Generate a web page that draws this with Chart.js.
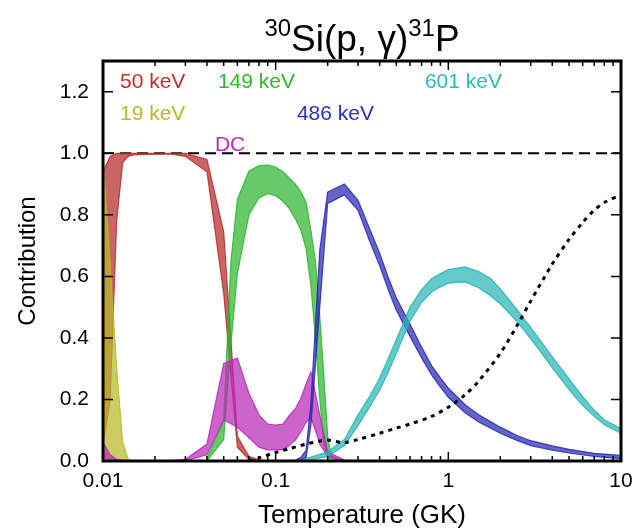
<!DOCTYPE html>
<html>
<head>
<meta charset="utf-8">
<script src="https://cdn.jsdelivr.net/npm/chart.js@4.4.1/dist/chart.umd.min.js"></script>
<style>
  html, body { margin: 0; padding: 0; background: #fff; }
</style>
</head>
<body>
<canvas id="myChart" width="636" height="529"></canvas>
<script>
'use strict';

// 19 keV
let t19 = [0.01, 0.011, 0.012, 0.013, 0.014, 0.015];
let lo19 = [0.02, 0, 0, 0, 0, 0];
let hi19 = [0.99, 0.64, 0.3, 0.06, 0.005, 0];

// 50 keV
let t50 = [0.01, 0.011, 0.012, 0.013, 0.014, 0.015, 0.02, 0.025, 0.03, 0.04, 0.05, 0.06, 0.07, 0.08, 0.09];
let lo50 = [0.05, 0.2, 0.78, 0.97, 0.99, 0.995, 0.997, 0.997, 0.99, 0.94, 0.545, 0.045, 0.005, 0.001, 0];
let hi50 = [0.94, 0.99, 1.0, 1.0, 1.0, 1.0, 1.0, 1.0, 1.0, 0.98, 0.745, 0.08, 0.015, 0.003, 0];

// DC
let tDC = [0.01, 0.011, 0.012, 0.013, 0.02, 0.025, 0.03, 0.04, 0.05, 0.06, 0.07, 0.08, 0.09, 0.1, 0.11, 0.12, 0.13, 0.14, 0.15, 0.16, 0.17, 0.18, 0.2, 0.25, 0.3];
let loDC = [0, 0, 0, 0, 0, 0, 0.001, 0.02, 0.133, 0.11, 0.075, 0.045, 0.036, 0.036, 0.036, 0.05, 0.068, 0.095, 0.125, 0.14, 0.1, 0.055, 0.015, 0, 0];
let hiDC = [0.06, 0.02, 0.005, 0.001, 0.001, 0.002, 0.005, 0.055, 0.317, 0.335, 0.22, 0.15, 0.12, 0.117, 0.12, 0.148, 0.17, 0.205, 0.25, 0.29, 0.22, 0.15, 0.03, 0.003, 0];

// 149 keV
let t149 = [0.04, 0.05, 0.055, 0.06, 0.07, 0.08, 0.09, 0.1, 0.11, 0.12, 0.13, 0.14, 0.15, 0.16, 0.17, 0.18, 0.19, 0.2, 0.21, 0.25];
let lo149 = [0, 0.07, 0.376, 0.61, 0.8, 0.855, 0.869, 0.862, 0.845, 0.82, 0.787, 0.75, 0.69, 0.57, 0.4, 0.2, 0.06, 0.01, 0, 0];
let hi149 = [0.01, 0.13, 0.645, 0.85, 0.942, 0.96, 0.962, 0.955, 0.94, 0.92, 0.9, 0.875, 0.84, 0.75, 0.65, 0.47, 0.28, 0.08, 0.015, 0];

// 486 keV
let t486 = [0.12, 0.13, 0.14, 0.15, 0.16, 0.18, 0.2, 0.25, 0.3, 0.35, 0.4, 0.45, 0.5, 0.6, 0.7, 0.8, 0.9, 1, 1.25, 1.5, 2, 2.5, 3, 4, 5, 7, 10];
let lo486 = [0, 0, 0.003, 0.01, 0.116, 0.5, 0.837, 0.865, 0.815, 0.715, 0.635, 0.555, 0.49, 0.405, 0.335, 0.28, 0.24, 0.207, 0.157, 0.127, 0.09, 0.067, 0.05, 0.035, 0.026, 0.015, 0.008];
let hi486 = [0, 0.003, 0.012, 0.035, 0.186, 0.685, 0.874, 0.9, 0.847, 0.755, 0.675, 0.595, 0.53, 0.445, 0.37, 0.31, 0.27, 0.237, 0.183, 0.15, 0.11, 0.083, 0.066, 0.049, 0.038, 0.025, 0.018];

// 601 keV
let t601 = [0.14, 0.15, 0.2, 0.25, 0.3, 0.35, 0.4, 0.45, 0.5, 0.6, 0.7, 0.8, 0.9, 1, 1.25, 1.5, 1.75, 2, 2.5, 3, 3.5, 4, 5, 6, 7, 8, 10];
let lo601 = [0, 0, 0.015, 0.05, 0.115, 0.175, 0.23, 0.29, 0.35, 0.455, 0.515, 0.549, 0.566, 0.578, 0.582, 0.563, 0.537, 0.511, 0.453, 0.397, 0.347, 0.303, 0.232, 0.18, 0.145, 0.118, 0.09];
let hi601 = [0, 0.008, 0.03, 0.07, 0.15, 0.21, 0.27, 0.335, 0.395, 0.5, 0.557, 0.592, 0.609, 0.622, 0.631, 0.616, 0.594, 0.559, 0.492, 0.434, 0.383, 0.339, 0.267, 0.209, 0.165, 0.134, 0.105];

// dotted black curve
let tDot = [0.07, 0.08, 0.1, 0.12, 0.15, 0.18, 0.2, 0.25, 0.3, 0.4, 0.5, 0.6, 0.8, 1, 1.25, 1.5, 2, 2.5, 3, 4, 5, 6, 7, 8, 10];
let vDot = [0, 0.01, 0.028, 0.04, 0.055, 0.065, 0.068, 0.06, 0.07, 0.09, 0.107, 0.12, 0.145, 0.175, 0.215, 0.26, 0.35, 0.44, 0.52, 0.64, 0.72, 0.775, 0.815, 0.84, 0.865];

let xTicks = [0.01, 0.1, 1, 10];
let xTickLabels = ['0.01', '0.1', '1', '10'];
let yTicks = [0, 0.2, 0.4, 0.6, 0.8, 1.0, 1.2];

// text labels: [text, T, value, colour]
let labels = [
  ['50 keV', 0.01254, 1.23, 'rgb(200,45,45)'],
  ['149 keV', 0.0463, 1.23, 'rgb(45,185,45)'],
  ['601 keV', 0.732, 1.23, 'rgb(45,185,185)'],
  ['19 keV', 0.01254, 1.127, 'rgb(185,185,40)'],
  ['486 keV', 0.1328, 1.127, 'rgb(45,45,195)'],
  ['DC', 0.0445, 1.026, 'rgb(190,45,190)']
];

function pts(t, v) {
  let out = [];
  for (let i = 0; i < t.length; i++) {
    out.push({x: t[i], y: v[i]});
  }
  return out;
}

function band(t, lo, hi, rgb) {
  let line = `rgba(${rgb},0.85)`;
  let fillCol = `rgba(${rgb},0.72)`;
  return [
    {data: pts(t, lo), borderColor: line, borderWidth: 1.2, pointRadius: 0, fill: false, tension: 0},
    {data: pts(t, hi), borderColor: line, borderWidth: 1.2, pointRadius: 0, fill: '-1', backgroundColor: fillCol, tension: 0}
  ];
}

let datasets = [
  {data: pts(tDot, vDot), borderColor: '#000', borderWidth: 3, borderDash: [4, 5], pointRadius: 0, fill: false, tension: 0.3}
];
datasets = datasets.concat(
  band(t601, lo601, hi601, '40,180,180'),
  band(t486, lo486, hi486, '40,40,180'),
  band(tDC, loDC, hiDC, '185,40,185'),
  band(t149, lo149, hi149, '45,180,45'),
  band(t19, lo19, hi19, '185,185,40'),
  band(t50, lo50, hi50, '182,42,42')
);
datasets.push({data: [{x: 0.01, y: 1}, {x: 10, y: 1}], borderColor: '#000', borderWidth: 2, borderDash: [11, 6], pointRadius: 0, fill: false});

// frame, inward ticks, title and text labels
let decor = {
  id: 'decor',
  afterDraw(chart) {
    let ctx = chart.ctx;
    let a = chart.chartArea;
    let x = chart.scales.x;
    let y = chart.scales.y;
    ctx.save();
    ctx.strokeStyle = '#000';
    ctx.lineWidth = 1.5;
    ctx.beginPath();
    for (let d of [0.01, 0.1, 1]) {
      for (let k = 1; k <= 10; k++) {
        let px = x.getPixelForValue(d * k);
        let len = (k === 1 || k === 10) ? 9 : 5;
        ctx.moveTo(px, a.bottom); ctx.lineTo(px, a.bottom - len);
        ctx.moveTo(px, a.top); ctx.lineTo(px, a.top + len);
      }
    }
    for (let v of yTicks) {
      let py = y.getPixelForValue(v);
      ctx.moveTo(a.left, py); ctx.lineTo(a.left + 10, py);
      ctx.moveTo(a.right, py); ctx.lineTo(a.right - 10, py);
    }
    ctx.stroke();
    ctx.lineWidth = 3;
    ctx.strokeRect(a.left, a.top, a.right - a.left, a.bottom - a.top);

    ctx.textBaseline = 'middle';
    ctx.textAlign = 'left';
    ctx.font = '21px "Liberation Sans", Arial, sans-serif';
    for (let l of labels) {
      ctx.fillStyle = l[3];
      ctx.fillText(l[0], x.getPixelForValue(l[1]), y.getPixelForValue(l[2]));
    }

    // title with superscripts
    let big = '37px "Liberation Sans", Arial, sans-serif';
    let small = '24px "Liberation Sans", Arial, sans-serif';
    let parts = [['30', small, -15], ['Si(p, \u03b3)', big, 0], ['31', small, -15], ['P', big, 0]];
    let w = 0;
    for (let p of parts) { ctx.font = p[1]; w += ctx.measureText(p[0]).width; }
    let cx = (a.left + a.right) / 2 - w / 2;
    ctx.fillStyle = '#000';
    ctx.textBaseline = 'alphabetic';
    for (let p of parts) {
      ctx.font = p[1];
      ctx.fillText(p[0], cx, 51 + p[2]);
      cx += ctx.measureText(p[0]).width;
    }
    ctx.restore();
  }
};

let ctx = document.getElementById('myChart').getContext('2d');
new Chart(ctx, {
  type: 'line',
  data: {datasets: datasets},
  options: {
    responsive: false,
    animation: false,
    devicePixelRatio: 1,
    layout: {padding: {top: 61, right: 15, left: 0, bottom: 0}},
    plugins: {legend: {display: false}, tooltip: {enabled: false}},
    scales: {
      x: {
        type: 'logarithmic',
        min: 0.01,
        max: 10,
        grid: {display: false, drawTicks: false},
        border: {display: false},
        afterBuildTicks: s => { s.ticks = xTicks.map(v => ({value: v})); },
        afterFit: s => { s.height = 68; s.paddingLeft = 0; s.paddingRight = 0; },
        ticks: {
          autoSkip: false,
          maxRotation: 0,
          padding: 8,
          color: '#000',
          font: {family: '"Liberation Sans", Arial, sans-serif', size: 21},
          callback: v => xTickLabels[xTicks.indexOf(v)]
        },
        title: {
          display: true,
          text: 'Temperature (GK)',
          color: '#000',
          padding: {top: 0, bottom: 0},
          font: {family: '"Liberation Sans", Arial, sans-serif', size: 26, lineHeight: 1}
        }
      },
      y: {
        min: 0,
        max: 1.3,
        grid: {display: false, drawTicks: false},
        border: {display: false},
        afterBuildTicks: s => { s.ticks = yTicks.map(v => ({value: v})); },
        afterFit: s => { s.width = 103; s.paddingTop = 0; s.paddingBottom = 0; },
        ticks: {
          padding: 14,
          color: '#000',
          font: {family: '"Liberation Sans", Arial, sans-serif', size: 21},
          callback: v => v.toFixed(1)
        },
        title: {
          display: true,
          text: 'Contribution',
          color: '#000',
          padding: {top: 16, bottom: 0},
          font: {family: '"Liberation Sans", Arial, sans-serif', size: 24, lineHeight: 1}
        }
      }
    }
  },
  plugins: [decor]
});
</script>
</body>
</html>
